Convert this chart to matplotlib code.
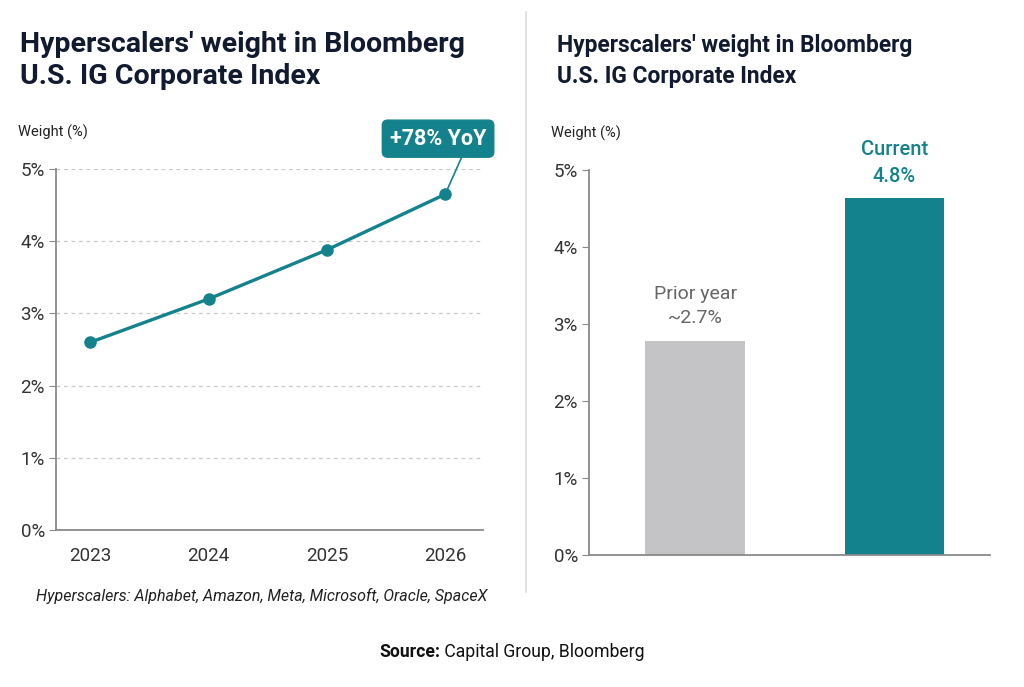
import matplotlib
matplotlib.use("Agg")
import matplotlib.pyplot as plt
from matplotlib.ticker import FuncFormatter

plt.rcParams['font.family'] = ['Roboto', 'DejaVu Sans']

years = [2023, 2024, 2025, 2026]
weights = [2.60, 3.20, 3.88, 4.65]
bar_labels = ["Prior year", "Current"]
bar_values = [2.78, 4.64]
yticks = [0, 1, 2, 3, 4, 5]
title = "Hyperscalers' weight in Bloomberg\nU.S. IG Corporate Index"
footnote = "Hyperscalers: Alphabet, Amazon, Meta, Microsoft, Oracle, SpaceX"

TEAL = "#14828c"
GREY = "#c4c4c7"
NAVY = "#121a30"
AXC = "#8a8a8a"
TXT = "#333333"

W, H = 1024, 687
fig = plt.figure(figsize=(W / 100, H / 100), dpi=100)

def box(x0, y0, x1, y1):
    return [x0 / W, 1 - y1 / H, (x1 - x0) / W, (y1 - y0) / H]

pct = FuncFormatter(lambda v, p: f"{v:.0f}%")

# Left line chart
ax1 = fig.add_axes(box(56, 169, 483, 530))
ax1.plot(years, weights, color=TEAL, lw=2.4, marker='o', ms=8, zorder=3, clip_on=False)
ax1.set_xlim(2022.71, 2026.32)
ax1.set_ylim(0, 5)
ax1.set_yticks(yticks)
ax1.yaxis.set_major_formatter(pct)
ax1.set_xticks(years)
ax1.grid(axis='y', color='#c8c8c8', ls=(0, (3, 3)), lw=0.9)
ax1.set_axisbelow(True)
for s in ['top', 'right']:
    ax1.spines[s].set_visible(False)
for s in ['left', 'bottom']:
    ax1.spines[s].set_color(AXC)
    ax1.spines[s].set_linewidth(1.3)
ax1.tick_params(axis='y', length=5, color=AXC, labelsize=13.5, labelcolor=TXT, pad=3)
ax1.tick_params(axis='x', length=0, labelsize=13.5, labelcolor=TXT, pad=12)
ax1.annotate("+78% YoY", xy=(years[-1], weights[-1]), xytext=(2025.94, 5.42),
             textcoords='data', ha='center', va='center', fontsize=15.5,
             fontweight='bold', color='white', annotation_clip=False,
             bbox=dict(boxstyle='round,pad=0.35,rounding_size=0.25', fc=TEAL, ec=TEAL),
             arrowprops=dict(arrowstyle='-', color=TEAL, lw=1.2,
                             shrinkA=0, shrinkB=4, relpos=(0.78, 0.0)))
fig.text(18 / W, 1 - 132 / H, "Weight (%)", fontsize=10.5, color='#222222', va='center', ha='left')

# Right bar chart
ax2 = fig.add_axes(box(589, 170, 990, 555))
xs = range(len(bar_values))
ax2.bar(xs, bar_values, width=0.5, color=[GREY, TEAL], zorder=2)
ax2.set_xlim(-0.533, 1.48)
ax2.set_ylim(0, 5)
ax2.set_yticks(yticks)
ax2.yaxis.set_major_formatter(pct)
ax2.set_xticks([])
for s in ['top', 'right']:
    ax2.spines[s].set_visible(False)
for s in ['left', 'bottom']:
    ax2.spines[s].set_color(AXC)
    ax2.spines[s].set_linewidth(1.3)
ax2.tick_params(axis='y', length=5, color=AXC, labelsize=13.5, labelcolor=TXT, pad=3)
ax2.text(0, bar_values[0] + 0.23, f"{bar_labels[0]}\n~2.7%", ha='center', va='baseline',
         fontsize=14, color='#666666', linespacing=1.45)
ax2.text(1, bar_values[1] + 0.21, f"{bar_labels[1]}\n4.8%", ha='center', va='baseline',
         fontsize=14.5, color=TEAL, fontweight='medium', linespacing=1.5)
fig.text(551 / W, 1 - 133 / H, "Weight (%)", fontsize=10.5, color='#222222', va='center', ha='left')

# Titles
fig.text(20 / W, 1 - 84 / H, title, fontsize=20.5, fontweight='bold', color=NAVY,
         ha='left', va='baseline', linespacing=1.25)
fig.text(557 / W, 1 - 83 / H, title, fontsize=16.4, fontweight='bold', color=NAVY,
         ha='left', va='baseline', linespacing=1.45)

# divider
fig.add_artist(plt.Line2D([526 / W, 526 / W], [1 - 12 / H, 1 - 592 / H], color='#dddddd', lw=1.2))

# footnote
fig.text(36 / W, 1 - 596 / H, footnote, fontsize=11.5, style='italic', color='#222222',
         ha='left', va='center')

# source line: bold label + regular text, centred together
fig.canvas.draw()
r = fig.canvas.get_renderer()
t1 = fig.text(0, 1 - 652 / H, "Source:", fontsize=12.7, fontweight='bold', color='#111111',
              ha='left', va='center')
t2 = fig.text(0, 1 - 652 / H, " Capital Group, Bloomberg", fontsize=12.7, color='#111111',
              ha='left', va='center')
w1 = t1.get_window_extent(r).width
w2 = t2.get_window_extent(r).width
x0 = 512 - (w1 + w2) / 2
t1.set_x(x0 / W)
t2.set_x((x0 + w1) / W)

fig.savefig("out.png", dpi=100, facecolor='white')
